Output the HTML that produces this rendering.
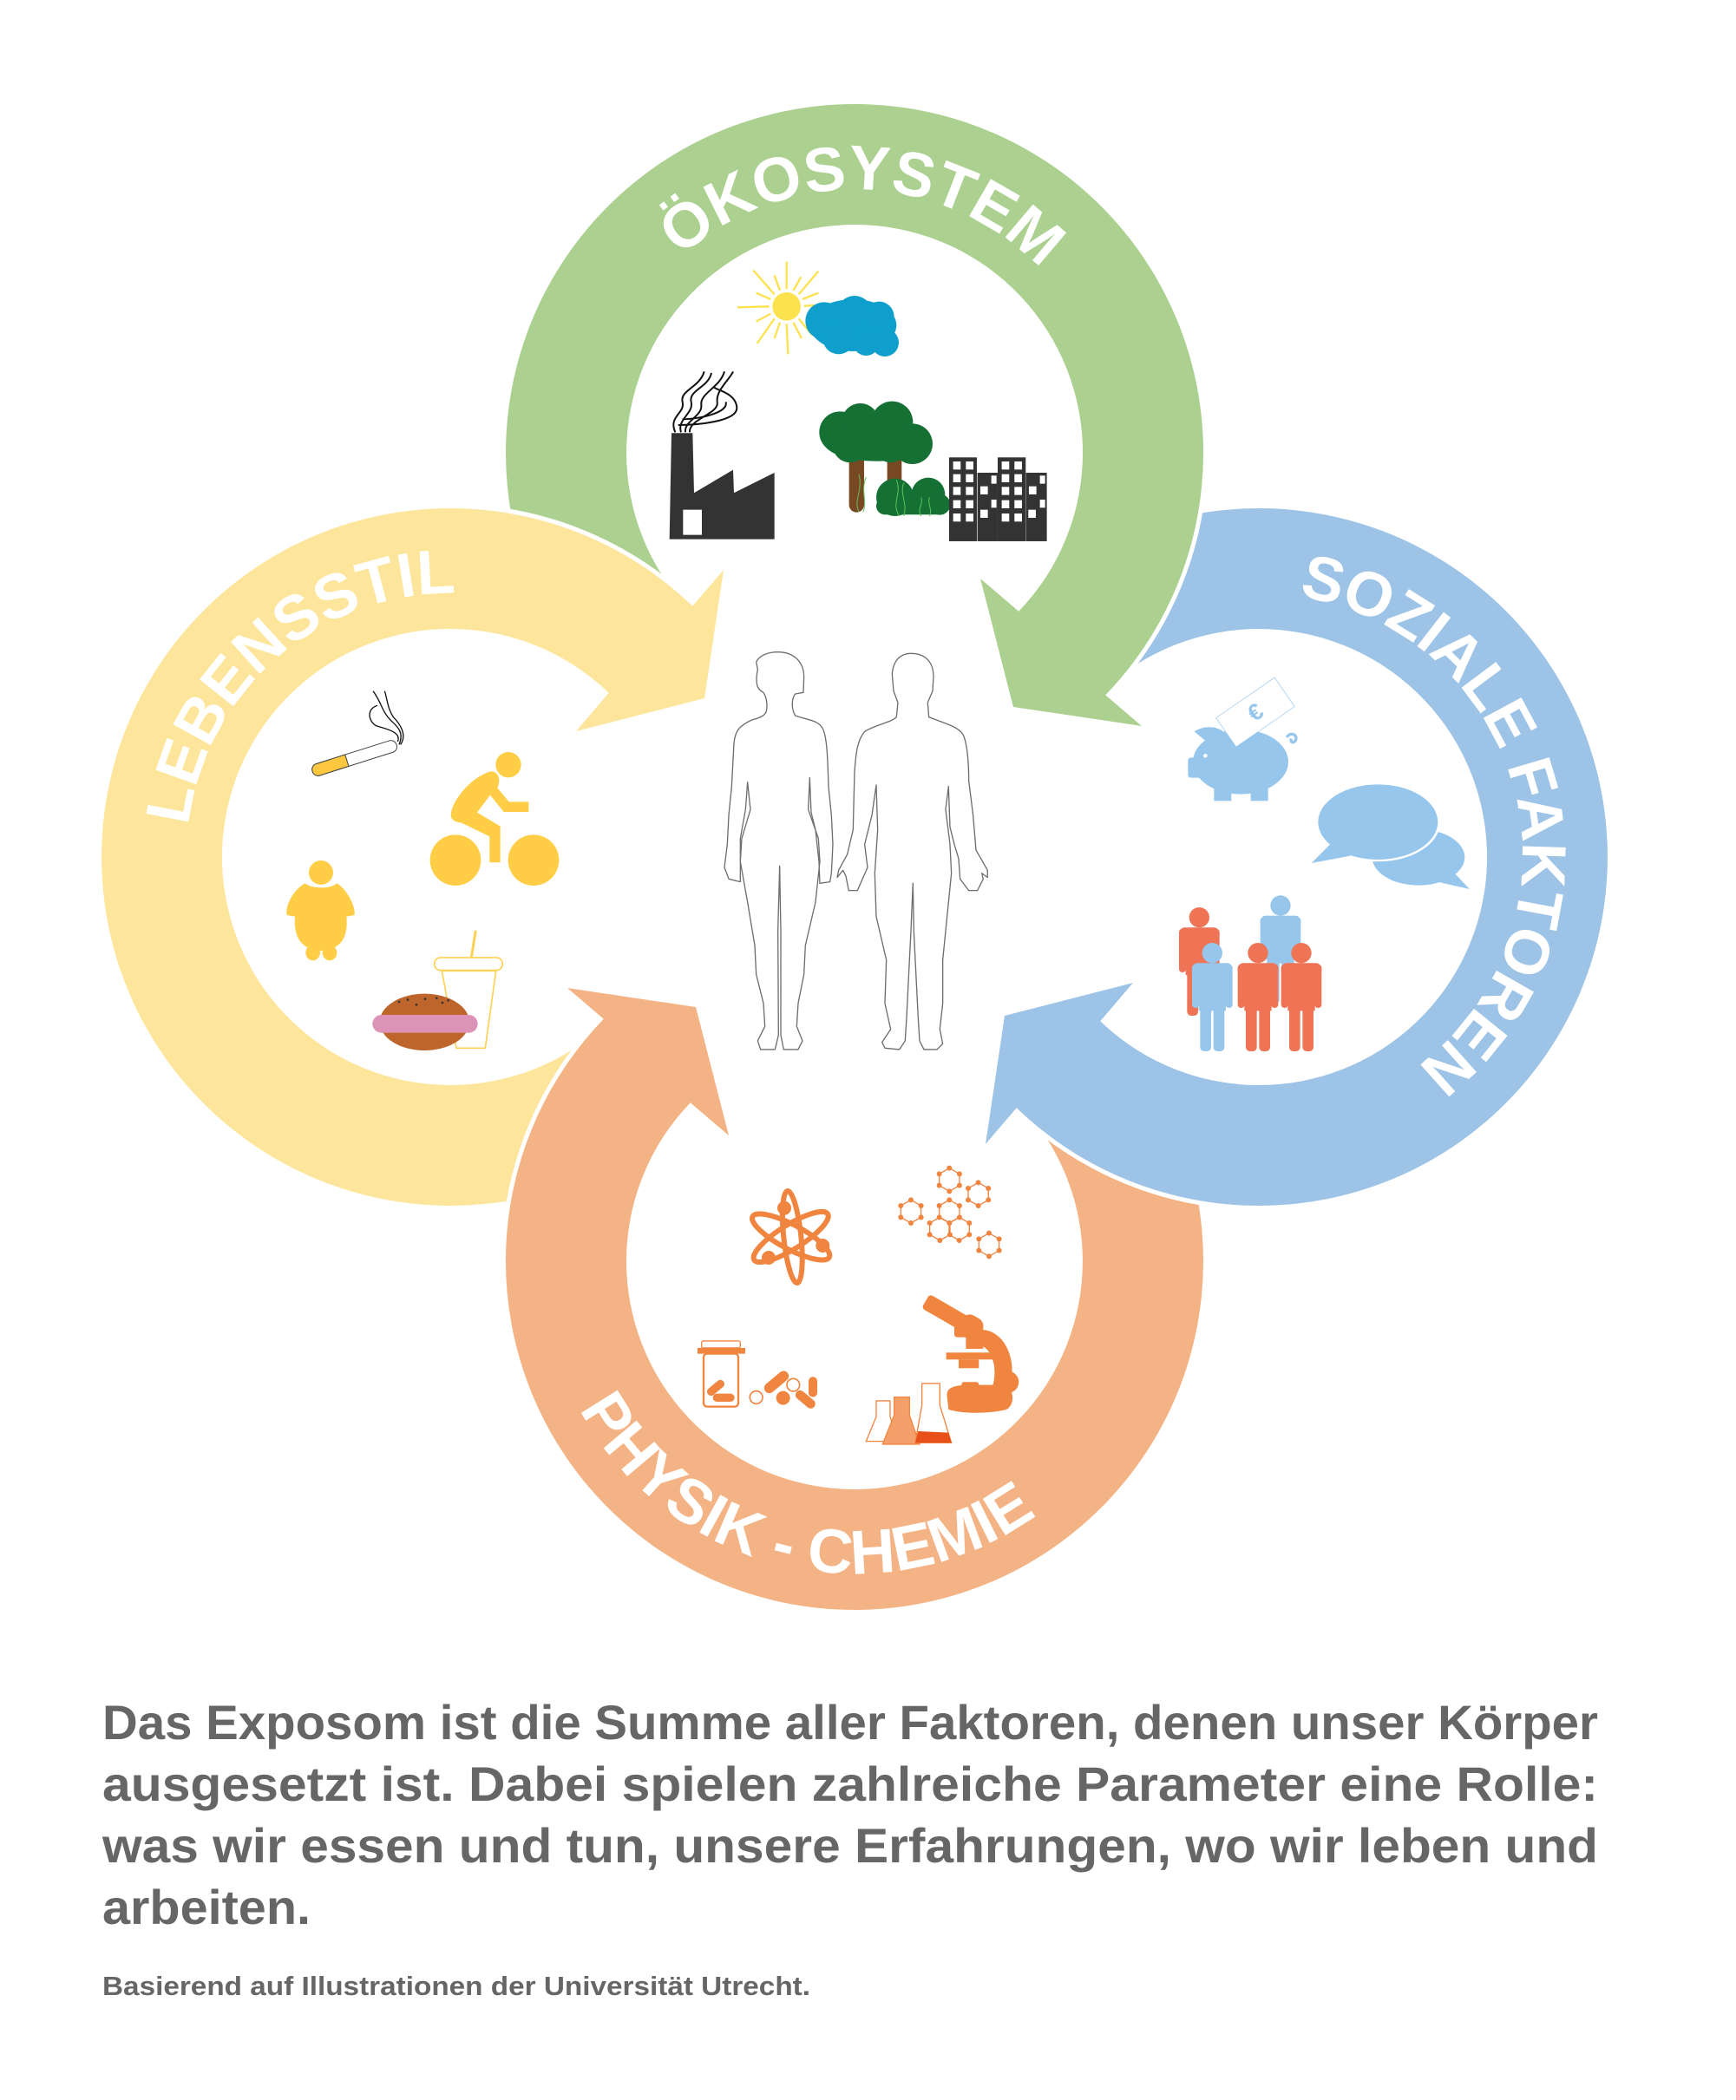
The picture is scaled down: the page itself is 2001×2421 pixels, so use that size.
<!DOCTYPE html>
<html><head><meta charset="utf-8"><style>
html,body{margin:0;padding:0;background:#fff;}
svg{display:block;}
</style></head><body>
<svg width="2001" height="2421" viewBox="0 0 2001 2421" xmlns="http://www.w3.org/2000/svg">
<defs>
<path id="body" d="M 668.2,769.5 A402,402 0 1 1 1274.2,801.3 L 1174.2,704.7 A263,263 0 1 0 777.8,683.9 Z"/>
<path id="head" d="M 1385.5,557 A402,402 0 0 1 1274.2,801.3 L 1316,837 L 1168,815 L 1130,667 L 1174.2,704.7 A263,263 0 0 0 1247,544.9 Z"/>
<path id="headline" d="M 1385.5,557 A402,402 0 0 1 1274.2,801.3 L 1316,837 L 1168,815 L 1130,667 L 1174.2,704.7 A263,263 0 0 0 1247,544.9"/>
<path id="tpG" d="M 974.4,825.8 A304,304 0 0 1 995.6,218.2 A304,304 0 0 1 974.9,825.8"/>
<path id="tpY" d="M 718.5,1217.4 A304,304 0 0 1 319.5,758.6 A304,304 0 0 1 718.9,1217.1"/>
<path id="tpB" d="M 1156.0,1061.5 A304,304 0 0 1 1746.0,914.5 A304,304 0 0 1 1156.2,1062.1"/>
<path id="tpO" d="M 1066,1103.2 A360,360 0 0 0 904,1804.8 A360,360 0 0 0 1066.6,1103.4"/>
<g id="person">
  <circle cx="0" cy="0" r="35"/>
  <rect x="-70" y="35" width="140" height="45" rx="20"/>
  <rect x="-70" y="40" width="24" height="150" rx="11"/>
  <rect x="46" y="40" width="24" height="150" rx="11"/>
  <rect x="-47" y="40" width="94" height="160"/>
  <rect x="-42" y="150" width="38" height="190" rx="14"/>
  <rect x="4" y="150" width="38" height="190" rx="14"/>
</g>
</defs>

<use href="#body" fill="#fde69c" transform="rotate(-90 985 988)"/>
<use href="#body" fill="#abd090"/>
<use href="#body" fill="#9dc3e6" transform="rotate(90 985 988)"/>
<use href="#body" fill="#f4b384" transform="rotate(180 985 988)"/>

<g transform="rotate(-90 985 988)">
  <use href="#headline" fill="none" stroke="#fff" stroke-width="10"/>
  <use href="#head" fill="#fde69c"/>
</g>
<g>
  <use href="#headline" fill="none" stroke="#fff" stroke-width="10"/>
  <use href="#head" fill="#abd090"/>
</g>
<g transform="rotate(90 985 988)">
  <use href="#headline" fill="none" stroke="#fff" stroke-width="10"/>
  <use href="#head" fill="#9dc3e6"/>
</g>
<g transform="rotate(180 985 988)">
  <use href="#headline" fill="none" stroke="#fff" stroke-width="10"/>
  <use href="#head" fill="#f4b384"/>
</g>

<g font-family="Liberation Sans, sans-serif" font-weight="bold" font-size="72" fill="#fff">
  <text><textPath href="#tpG" startOffset="50%" text-anchor="middle">ÖKOSYSTEM</textPath></text>
  <text><textPath href="#tpY" startOffset="50%" text-anchor="middle">LEBENSSTIL</textPath></text>
  <text letter-spacing="-1"><textPath href="#tpB" startOffset="50%" text-anchor="middle">SOZIALE FAKTOREN</textPath></text>
  <text><textPath href="#tpO" startOffset="50%" text-anchor="middle">PHYSIK - CHEMIE</textPath></text>
</g>

<g transform="translate(750,290) scale(0.3333)">
  <g stroke="#fde24f" stroke-width="7">
    <line x1="470" y1="130" x2="470" y2="35"/><line x1="470" y1="250" x2="475" y2="355"/>
    <line x1="410" y1="190" x2="300" y2="193"/><line x1="530" y1="188" x2="600" y2="185"/>
    <line x1="428" y1="148" x2="355" y2="65"/><line x1="512" y1="148" x2="580" y2="68"/>
    <line x1="428" y1="232" x2="368" y2="318"/><line x1="512" y1="232" x2="560" y2="290"/>
    <line x1="447" y1="135" x2="428" y2="82"/><line x1="493" y1="135" x2="520" y2="88"/>
    <line x1="415" y1="165" x2="365" y2="143"/><line x1="525" y1="165" x2="580" y2="143"/>
    <line x1="415" y1="215" x2="365" y2="242"/><line x1="447" y1="245" x2="428" y2="300"/>
    <line x1="493" y1="245" x2="522" y2="300"/>
  </g>
  <circle cx="470" cy="190" r="49" fill="#fde24f"/>
  <g fill="#0e9fcc">
    <ellipse cx="700" cy="255" rx="150" ry="90"/>
    <circle cx="600" cy="240" r="65"/><circle cx="705" cy="215" r="62"/>
    <circle cx="790" cy="225" r="52"/><circle cx="810" cy="315" r="48"/>
    <circle cx="650" cy="300" r="55"/><circle cx="745" cy="315" r="45"/>
  </g>
  <path d="M72,628 L145,628 L150,835 L285,755 L288,835 L428,765 L428,995 L65,995 Z" fill="#333"/>
  <rect x="112" y="893" width="65" height="87" fill="#fff"/>
  <g fill="none" stroke="#111" stroke-width="6">
    <path d="M85,625 C60,570 120,560 110,520 C100,480 170,470 185,415"/>
    <path d="M105,625 C90,580 150,560 140,520 C130,480 200,470 210,420"/>
    <path d="M120,625 C115,585 180,570 175,530 C170,490 240,470 255,415"/>
    <path d="M135,625 C130,580 240,560 230,520 C225,480 275,440 285,415"/>
    <path d="M95,600 C150,600 300,590 298,540 C295,490 230,480 220,470"/>
    <path d="M110,580 C160,580 270,560 260,520"/>
  </g>
  <g fill="#784822">
    <rect x="686" y="690" width="52" height="212" rx="26"/>
    <rect x="818" y="690" width="50" height="120" rx="20"/>
  </g>
  <g fill="#157034">
    <circle cx="655" cy="625" r="72"/><circle cx="725" cy="590" r="65"/>
    <circle cx="835" cy="590" r="72"/><circle cx="905" cy="665" r="70"/>
    <circle cx="690" cy="670" r="60"/><circle cx="830" cy="675" r="55"/>
    <ellipse cx="780" cy="660" rx="180" ry="65"/>
    <circle cx="845" cy="850" r="65"/><circle cx="960" cy="840" r="58"/>
    <circle cx="1000" cy="875" r="36"/>
    <rect x="780" y="850" width="250" height="60" rx="30"/>
  </g>
  <g fill="none" stroke="#5cc05c" stroke-width="3">
    <path d="M720,900 C700,860 735,830 720,770"/><path d="M735,900 C750,860 725,830 745,780"/>
    <path d="M860,915 C830,870 870,840 850,790"/><path d="M875,915 C890,870 860,840 875,800"/>
    <path d="M935,915 C920,890 945,870 935,850"/><path d="M965,915 C975,890 955,870 965,850"/>
  </g>
  <g fill="#333">
    <rect x="1032" y="712" width="96" height="290"/>
    <rect x="1130" y="765" width="70" height="237"/>
    <rect x="1200" y="712" width="97" height="290"/>
    <rect x="1298" y="765" width="72" height="237"/>
  </g>
  <g fill="#fff">
    <rect x="1046" y="726" width="26" height="28"/><rect x="1090" y="726" width="26" height="28"/>
    <rect x="1046" y="770" width="26" height="28"/><rect x="1090" y="770" width="26" height="28"/>
    <rect x="1046" y="814" width="26" height="28"/><rect x="1090" y="814" width="26" height="28"/>
    <rect x="1046" y="860" width="26" height="28"/><rect x="1090" y="860" width="26" height="28"/>
    <rect x="1046" y="906" width="26" height="28"/><rect x="1090" y="906" width="26" height="28"/>
    <rect x="1214" y="726" width="26" height="28"/><rect x="1258" y="726" width="26" height="28"/>
    <rect x="1214" y="770" width="26" height="28"/><rect x="1258" y="770" width="26" height="28"/>
    <rect x="1214" y="814" width="26" height="28"/><rect x="1258" y="814" width="26" height="28"/>
    <rect x="1214" y="860" width="26" height="28"/><rect x="1258" y="860" width="26" height="28"/>
    <rect x="1214" y="906" width="26" height="28"/><rect x="1258" y="906" width="26" height="28"/>
    <rect x="1140" y="812" width="26" height="28"/><rect x="1178" y="775" width="18" height="28"/>
    <rect x="1178" y="858" width="18" height="28"/><rect x="1140" y="893" width="26" height="28"/>
    <rect x="1308" y="812" width="26" height="28"/><rect x="1346" y="775" width="18" height="28"/>
    <rect x="1346" y="858" width="18" height="28"/><rect x="1306" y="893" width="26" height="28"/>
  </g>
</g>

<g transform="translate(310,780) scale(0.3333)">
  <g transform="translate(160,325) rotate(-17.6)">
    <rect x="-10" y="-21" width="305" height="42" rx="20" fill="#fff" stroke="#444" stroke-width="3"/>
    <path d="M10,-21 L115,-21 L115,21 L10,21 A20,20 0 0 1 -10,0 A20,20 0 0 1 10,-21 Z" fill="#fdc83f" stroke="#444" stroke-width="3"/>
  </g>
  <g fill="none" stroke="#111" stroke-width="4">
    <path d="M450,235 C470,190 440,170 420,150 C390,120 390,90 360,50"/>
    <path d="M445,225 C460,190 400,180 370,170 C340,150 340,110 375,100"/>
    <path d="M455,235 C480,200 450,160 430,140 C410,110 410,80 400,50"/>
  </g>
  <g fill="#ffce46">
    <circle cx="828" cy="305" r="44"/>
    <circle cx="645" cy="635" r="88"/><circle cx="915" cy="635" r="88"/>
    <path d="M630,470 C640,420 700,350 760,330 C790,320 805,355 790,385 L830,433 L898,433 L898,468 L812,468 L765,410 L720,470 L800,518 L800,643 L763,643 L763,553 L665,505 C640,505 625,490 630,470 Z"/>
    <circle cx="180" cy="678" r="42"/>
    <path d="M125,715 C80,740 55,800 62,825 L90,830 C85,900 110,945 180,948 C250,945 275,900 268,830 L296,825 C300,800 275,740 235,715 C215,735 145,735 125,715 Z"/>
    <ellipse cx="152" cy="955" rx="25" ry="27"/><ellipse cx="210" cy="955" rx="25" ry="27"/>
  </g>
  <g fill="none" stroke="#fdd156" stroke-width="5">
    <rect x="572" y="972" width="236" height="44" rx="22"/>
    <path d="M598,1018 L785,1018 L748,1285 L648,1285 Z"/>
  </g>
  <line x1="715" y1="878" x2="700" y2="972" stroke="#fdd156" stroke-width="9"/>
  <ellipse cx="538" cy="1195" rx="155" ry="98" fill="#bd652b"/>
  <rect x="358" y="1170" width="364" height="62" rx="31" fill="#dd93b8"/>
  <g fill="#333"><circle cx="450" cy="1125" r="4"/><circle cx="480" cy="1118" r="4"/><circle cx="510" cy="1135" r="4"/><circle cx="540" cy="1115" r="4"/><circle cx="580" cy="1112" r="4"/><circle cx="600" cy="1128" r="4"/><circle cx="620" cy="1120" r="4"/></g>
</g>

<g transform="translate(820,740) scale(0.3333)" fill="none" stroke="#6e6e6e" stroke-width="4" stroke-linejoin="round">
  <path d="M230,35 C285,35 320,70 320,120 L318,175 L290,180 C278,195 275,230 290,255 C330,270 370,270 385,300 C400,330 402,400 405,500 L415,600 L420,700 L415,800 L410,830 L375,835 L372,760 L360,650 L345,590 L340,470 L335,580 L370,680 L375,760 L360,900 L325,1050 L320,1150 L300,1250 L295,1330 L315,1380 L300,1410 L250,1410 L240,1360 L240,1000 L236,775 L230,1000 L232,1360 L220,1410 L170,1410 L160,1380 L185,1330 L180,1250 L155,1150 L150,1050 L125,900 L100,760 L105,680 L135,580 L125,485 L118,580 L100,680 L100,830 L60,820 L45,780 L55,700 L60,600 L70,500 L78,350 C82,310 95,290 140,270 C170,262 185,255 190,240 C195,215 190,190 180,175 C160,165 150,150 160,95 L155,70 C165,45 200,35 230,35 Z"/>
  <path d="M690,40 C740,40 768,70 768,120 L765,170 L748,210 L752,260 C800,280 850,290 870,320 C885,350 890,420 890,480 L905,600 L915,720 L955,790 L955,815 L935,800 L940,820 L920,860 L890,860 L860,820 L855,750 L840,700 L825,640 L820,500 L810,580 L825,700 L830,800 L815,950 L800,1100 L800,1250 L790,1340 L800,1390 L780,1410 L735,1410 L720,1380 L715,1300 L700,1000 L697,835 L690,1000 L675,1300 L670,1380 L650,1410 L600,1405 L590,1385 L620,1340 L600,1250 L605,1100 L570,950 L565,800 L575,650 L570,495 L555,600 L530,700 L540,780 L505,860 L475,860 L465,810 L455,790 L435,815 L440,790 L470,735 L490,650 L495,450 C500,380 505,340 530,310 C570,285 620,280 640,260 L645,210 L630,170 L625,110 C628,70 650,40 690,40 Z"/>
</g>

<g transform="translate(1340,760) scale(0.3333)">
  <g fill="#97c6ec">
    <ellipse cx="270" cy="355" rx="165" ry="112"/>
    <path d="M110,250 C150,225 190,235 210,250 L170,300 Z"/>
    <rect x="88" y="340" width="60" height="70" rx="10"/>
    <rect x="178" y="420" width="60" height="70"/>
    <rect x="305" y="420" width="60" height="70"/>
  </g>
  <path d="M430,270 C440,250 470,260 460,280 C455,292 440,288 445,275" fill="none" stroke="#97c6ec" stroke-width="10"/>
  <circle cx="148" cy="334" r="7" fill="#fff"/>
  <g transform="translate(185,203) rotate(-34.6)">
    <rect x="0" y="0" width="246" height="122" fill="#fff" stroke="#97c6ec" stroke-width="2"/>
    <text x="123" y="88" font-family="Liberation Sans, sans-serif" font-weight="bold" font-size="80" fill="#97c6ec" text-anchor="middle">€</text>
  </g>
  <g fill="#97c6ec">
    <ellipse cx="885" cy="685" rx="160" ry="97"/>
    <path d="M1000,730 L1062,795 L950,770 Z"/>
  </g>
  <ellipse cx="745" cy="563" rx="215" ry="137" fill="#fff"/>
  <g fill="#97c6ec">
    <ellipse cx="745" cy="563" rx="207" ry="130"/>
    <path d="M590,630 L515,705 L650,680 Z"/>
  </g>
  <use href="#person" x="127" y="893" fill="#ef7355"/>
  <use href="#person" x="408" y="852" fill="#97c6ec"/>
  <use href="#person" x="172" y="1016" fill="#97c6ec"/>
  <use href="#person" x="330" y="1016" fill="#ef7355"/>
  <use href="#person" x="480" y="1016" fill="#ef7355"/>
</g>

<g transform="translate(780,1320) scale(0.3333)">
  <g fill="none" stroke="#f08540" stroke-width="18">
    <ellipse cx="395" cy="318" rx="150" ry="42" transform="rotate(28 395 318)"/>
    <ellipse cx="395" cy="318" rx="150" ry="42" transform="rotate(-32 395 318)"/>
    <ellipse cx="400" cy="318" rx="30" ry="160" transform="rotate(-6 400 318)"/>
  </g>
  <g fill="#f08540">
    <circle cx="372" cy="218" r="24"/><circle cx="318" cy="390" r="24"/><circle cx="505" cy="348" r="24"/>
  </g>
  <g fill="none" stroke="#f08540" stroke-width="4">
    <polygon points="943,80 978,100 978,140 943,160 908,140 908,100"/>
    <polygon points="1043,130 1078,150 1078,190 1043,210 1008,190 1008,150"/>
    <polygon points="810,190 845,210 845,250 810,270 775,250 775,210"/>
    <polygon points="943,190 978,210 978,250 943,270 908,250 908,210"/>
    <polygon points="910,250 945,270 945,310 910,330 875,310 875,270"/>
    <polygon points="977,250 1012,270 1012,310 977,330 942,310 942,270"/>
    <polygon points="1080,305 1115,325 1115,365 1080,385 1045,365 1045,325"/>
  </g>
  <g fill="#f08540">
    <circle cx="943" cy="80" r="9"/><circle cx="978" cy="100" r="9"/><circle cx="978" cy="140" r="9"/><circle cx="943" cy="160" r="9"/><circle cx="908" cy="140" r="9"/><circle cx="908" cy="100" r="9"/>
    <circle cx="1043" cy="130" r="9"/><circle cx="1078" cy="150" r="9"/><circle cx="1078" cy="190" r="9"/><circle cx="1043" cy="210" r="9"/><circle cx="1008" cy="190" r="9"/><circle cx="1008" cy="150" r="9"/>
    <circle cx="810" cy="190" r="9"/><circle cx="845" cy="210" r="9"/><circle cx="845" cy="250" r="9"/><circle cx="810" cy="270" r="9"/><circle cx="775" cy="250" r="9"/><circle cx="775" cy="210" r="9"/>
    <circle cx="943" cy="190" r="9"/><circle cx="978" cy="210" r="9"/><circle cx="978" cy="250" r="9"/><circle cx="943" cy="270" r="9"/><circle cx="908" cy="250" r="9"/><circle cx="908" cy="210" r="9"/>
    <circle cx="910" cy="330" r="9"/><circle cx="875" cy="310" r="9"/><circle cx="875" cy="270" r="9"/><circle cx="945" cy="310" r="9"/>
    <circle cx="977" cy="330" r="9"/><circle cx="1012" cy="310" r="9"/><circle cx="1012" cy="270" r="9"/>
    <circle cx="1080" cy="305" r="9"/><circle cx="1115" cy="325" r="9"/><circle cx="1115" cy="365" r="9"/><circle cx="1080" cy="385" r="9"/><circle cx="1045" cy="365" r="9"/><circle cx="1045" cy="325" r="9"/>
  </g>
  <rect x="86" y="678" width="134" height="24" rx="6" fill="none" stroke="#f08540" stroke-width="4"/>
  <rect x="72" y="702" width="165" height="20" fill="#f08540"/>
  <rect x="93" y="722" width="120" height="183" rx="12" fill="none" stroke="#f08540" stroke-width="7"/>
  <g transform="translate(135,840) rotate(-40)"><rect x="-35" y="-14" width="70" height="28" rx="14" fill="#f08540"/></g>
  <rect x="125" y="860" width="75" height="28" rx="14" fill="#f08540"/>
  <g transform="translate(345,820) rotate(-40)"><rect x="-50" y="-18" width="100" height="36" rx="18" fill="#f08540"/></g>
  <g transform="translate(445,880) rotate(40)"><rect x="-40" y="-16" width="80" height="32" rx="16" fill="#f08540"/></g>
  <rect x="456" y="802" width="30" height="70" rx="15" fill="#f08540"/>
  <circle cx="275" cy="873" r="22" fill="none" stroke="#f08540" stroke-width="5"/>
  <circle cx="368" cy="875" r="24" fill="#f08540"/>
  <circle cx="403" cy="830" r="22" fill="none" stroke="#f08540" stroke-width="5"/>
  <g fill="#f08540">
    <path d="M935,870 C930,840 960,830 1010,830 L1130,830 C1170,840 1170,900 1140,915 C1080,930 990,930 940,915 Z"/>
    <path d="M1040,640 C1110,630 1160,700 1160,780 C1160,820 1140,840 1120,840 L1090,840 C1110,790 1100,700 1040,690 Z"/>
    <rect x="932" y="718" width="180" height="24"/>
    <rect x="975" y="742" width="70" height="30"/>
    <rect x="960" y="625" width="100" height="40" rx="10"/>
    <rect x="1000" y="660" width="60" height="45"/>
    <circle cx="1145" cy="820" r="38"/>
    <rect x="985" y="820" width="60" height="20" rx="8"/>
    <g transform="translate(930,580) rotate(30)">
      <rect x="-80" y="-28" width="160" height="56" rx="12"/>
      <rect x="60" y="-40" width="80" height="80" rx="30"/>
    </g>
  </g>
  <path d="M690,885 L738,885 L738,940 L765,1025 L655,1025 L690,940 Z" fill="#fff" stroke="#f08540" stroke-width="4"/>
  <path d="M752,872 L805,872 L805,935 L840,1035 L712,1035 L752,935 Z" fill="#f5a06a" stroke="#f08540" stroke-width="4"/>
  <path d="M848,825 L910,825 L910,900 L950,1030 L825,1030 L848,900 Z" fill="#fff" stroke="#f08540" stroke-width="4"/>
  <path d="M835,990 L940,995 L950,1030 L825,1030 Z" fill="#e8501a"/>
</g>

<g font-family="Liberation Sans, sans-serif" font-weight="bold" fill="#666">
  <text x="118" y="2005" font-size="56" textLength="1724" lengthAdjust="spacingAndGlyphs">Das Exposom ist die Summe aller Faktoren, denen unser Körper</text>
  <text x="118" y="2076" font-size="56" textLength="1724" lengthAdjust="spacingAndGlyphs">ausgesetzt ist. Dabei spielen zahlreiche Parameter eine Rolle:</text>
  <text x="118" y="2147" font-size="56" textLength="1724" lengthAdjust="spacingAndGlyphs">was wir essen und tun, unsere Erfahrungen, wo wir leben und</text>
  <text x="118" y="2218" font-size="56" textLength="240" lengthAdjust="spacingAndGlyphs">arbeiten.</text>
  <text x="118" y="2300" font-size="31" textLength="816" lengthAdjust="spacingAndGlyphs">Basierend auf Illustrationen der Universität Utrecht.</text>
</g>
</svg>
</body></html>
